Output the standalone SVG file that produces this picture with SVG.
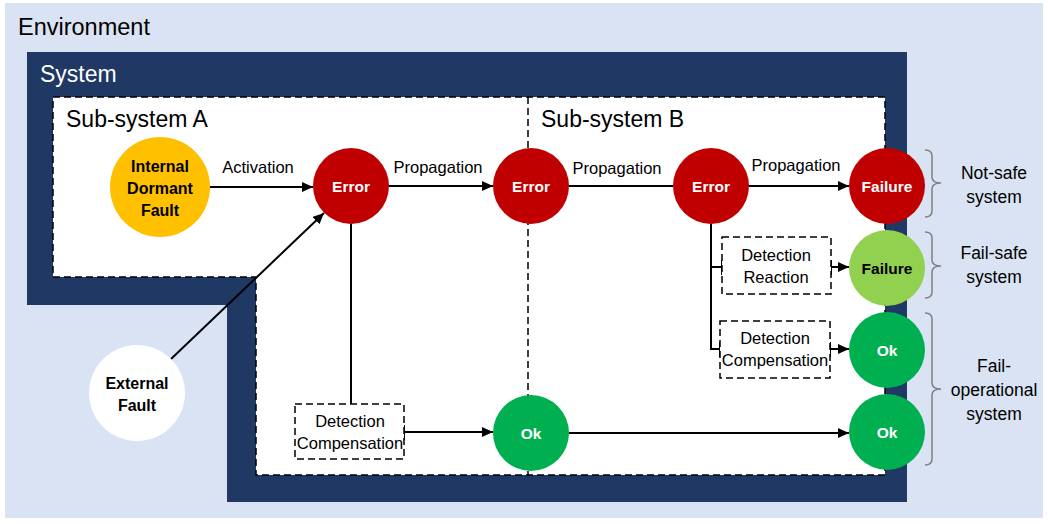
<svg xmlns="http://www.w3.org/2000/svg" width="1048" height="524" viewBox="0 0 1048 524">
<style>
text{font-family:"Liberation Sans",Arial,sans-serif;fill:#000}
.lbl{font-size:16.5px}
.box{fill:#fff;stroke:#000;stroke-width:1.5;stroke-dasharray:7,4}
.nb{font-size:15.5px;font-weight:bold;fill:#fff;text-anchor:middle}
.nk{font-size:16px;font-weight:bold;fill:#000;text-anchor:middle}
.bt{font-size:16.5px;text-anchor:middle}
.side{font-size:17.5px;text-anchor:middle}
.con path,.con line{stroke:#000;stroke-width:2;fill:none}
.brace{stroke:#7f7f7f;stroke-width:1.5;fill:none}
</style>
<defs>
<marker id="ah" markerUnits="userSpaceOnUse" markerWidth="11" markerHeight="10" refX="11" refY="5" orient="auto">
<path d="M0,0 L11,5 L0,10 z" fill="#000"/>
</marker>
</defs>
<rect x="5" y="3" width="1038" height="515" fill="#dae3f3"/>
<text x="18" y="35" style="font-size:23.5px">Environment</text>
<polygon points="27,52 907,52 907,502 227,502 227,305 27,305" fill="#203864"/>
<text x="40" y="82" style="font-size:23px;fill:#fff">System</text>
<polygon points="53,97 885,97 885,475 256,475 256,277 53,277" fill="#fff" stroke="#000" stroke-width="1.5" stroke-dasharray="7,4"/>
<line x1="528" y1="97" x2="528" y2="475" stroke="#000" stroke-width="1.5" stroke-dasharray="7,4"/>
<text x="66" y="127" style="font-size:23px">Sub-system A</text>
<text x="541" y="127" style="font-size:23px">Sub-system B</text>
<g id="connectors" class="con">
<path d="M210,187 H313" marker-end="url(#ah)"/>
<path d="M171,359 L324,213" marker-end="url(#ah)"/>
<path d="M389,186 H493" marker-end="url(#ah)"/>
<path d="M569,186 H673"/>
<path d="M749,186 H849" marker-end="url(#ah)"/>
<path d="M351,224 V404"/>
<path d="M404,432 H493" marker-end="url(#ah)"/>
<path d="M569,433 H849" marker-end="url(#ah)"/>
<path d="M711,224 V349 H720"/>
<path d="M711,267 H722"/>
<path d="M831,267 H849" marker-end="url(#ah)"/>
<path d="M830,349 H849" marker-end="url(#ah)"/>
<line x1="722" y1="260" x2="722" y2="275"/>
<line x1="831" y1="260" x2="831" y2="275"/>
<line x1="720" y1="342" x2="720" y2="357"/>
<line x1="830" y1="342" x2="830" y2="357"/>
<line x1="404" y1="425" x2="404" y2="440"/>
</g>
<g id="internal-fault">
<circle cx="160" cy="187" r="50" fill="#ffc000"/>
<text class="nk" x="160" y="172">Internal</text>
<text class="nk" x="160" y="194">Dormant</text>
<text class="nk" x="160" y="216">Fault</text>
</g>
<g id="external-fault">
<circle cx="137" cy="393" r="48" fill="#fff"/>
<text class="nk" x="137" y="389">External</text>
<text class="nk" x="137" y="411">Fault</text>
</g>
<g id="labels">
<text class="lbl" x="258" y="173" text-anchor="middle">Activation</text>
<text class="lbl" x="438" y="173" text-anchor="middle">Propagation</text>
<text class="lbl" x="617" y="174" text-anchor="middle">Propagation</text>
<text class="lbl" x="796" y="171" text-anchor="middle">Propagation</text>
</g>
<g id="error1"><circle cx="351" cy="186" r="38" fill="#c00000"/><text class="nb" x="351" y="192">Error</text></g>
<g id="error2"><circle cx="531" cy="186" r="38" fill="#c00000"/><text class="nb" x="531" y="192">Error</text></g>
<g id="error3"><circle cx="711" cy="186" r="38" fill="#c00000"/><text class="nb" x="711" y="192">Error</text></g>
<g id="failure-red"><circle cx="887" cy="186" r="38" fill="#c00000"/><text class="nb" x="887" y="192">Failure</text></g>
<g id="failure-green"><circle cx="887" cy="268" r="38" fill="#92d050"/><text class="nb" x="887" y="274" style="fill:#000">Failure</text></g>
<g id="ok-right1"><circle cx="887" cy="350" r="38" fill="#00b050"/><text class="nb" x="887" y="356">Ok</text></g>
<g id="ok-right2"><circle cx="887" cy="432" r="38" fill="#00b050"/><text class="nb" x="887" y="438">Ok</text></g>
<g id="ok-mid"><circle cx="531" cy="433" r="38" fill="#00b050"/><text class="nb" x="531" y="439">Ok</text></g>
<g id="detcomp-a">
<rect class="box" x="295" y="404" width="109" height="55"/>
<text class="bt" x="350" y="427">Detection</text>
<text class="bt" x="350" y="449">Compensation</text>
</g>
<g id="detreact-b">
<rect class="box" x="722" y="237" width="109" height="57"/>
<text class="bt" x="776" y="261">Detection</text>
<text class="bt" x="776" y="283">Reaction</text>
</g>
<g id="detcomp-b">
<rect class="box" x="720" y="321" width="110" height="57"/>
<text class="bt" x="775" y="344">Detection</text>
<text class="bt" x="775" y="366">Compensation</text>
</g>
<g id="not-safe">
<path class="brace" d="M925,150 Q932,150 932,156 V177 Q932,183 941,183 Q932,183 932,189 V211 Q932,217 925,217"/>
<text class="side" x="994" y="179">Not-safe</text>
<text class="side" x="994" y="203">system</text>
</g>
<g id="fail-safe">
<path class="brace" d="M925,232 Q932,232 932,238 V260 Q932,266 941,266 Q932,266 932,272 V292 Q932,298 925,298"/>
<text class="side" x="994" y="259">Fail-safe</text>
<text class="side" x="994" y="283">system</text>
</g>
<g id="fail-operational">
<path class="brace" d="M925,313 Q932,313 932,319 V383 Q932,389 941,389 Q932,389 932,395 V459 Q932,465 925,465"/>
<text class="side" x="994" y="372">Fail-</text>
<text class="side" x="994" y="396">operational</text>
<text class="side" x="994" y="420">system</text>
</g>
</svg>
